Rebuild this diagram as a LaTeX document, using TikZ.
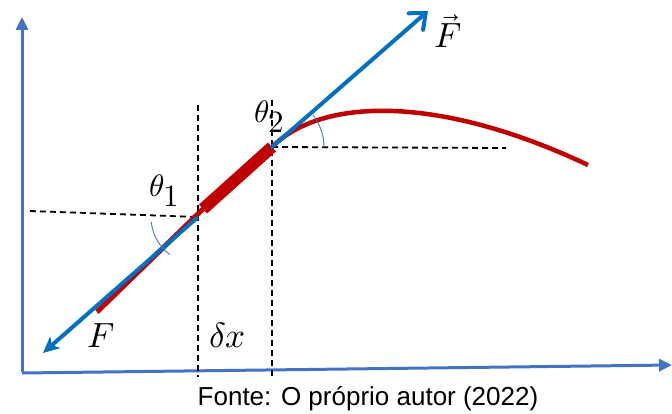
\documentclass[tikz,border=0pt]{standalone}
\usepackage{fontspec}
\usepackage{unicode-math}
\setmathfont{Latin Modern Math}
\newfontfamily\capfont{Liberation Sans}
\usetikzlibrary{arrows.meta}
\definecolor{axisblue}{HTML}{4472C4}
\definecolor{forceblue}{HTML}{0070C0}
\definecolor{curvered}{HTML}{C00000}
\tikzset{
  axisline/.style={axisblue, line width=3pt, -{Triangle[length=13pt,width=12pt]}},
  guide/.style={black, line width=1.8pt, dash pattern=on 6pt off 4pt},
  forcearrow/.style={forceblue, line width=4pt, line cap=round},
  anglearc/.style={axisblue, line width=0.9pt},
  stringthin/.style={curvered, line width=5pt},
  stringthick/.style={curvered, line width=12pt},
  mathlbl/.style={inner sep=0pt, anchor=base west, font=\fontsize{31}{36}\selectfont},
  biglbl/.style={inner sep=0pt, anchor=base west, font=\fontsize{35}{40}\selectfont},
  caption/.style={inner sep=0pt, anchor=base, font=\capfont\fontsize{26}{30}\selectfont}
}
\begin{document}
\begin{tikzpicture}[x=1pt,y=-1pt]
\useasboundingbox (0,0) rectangle (672,414);
% key points
\coordinate (origin) at (22,373);
\coordinate (ytip) at (22,17);
\coordinate (xtip) at (672,365);
\coordinate (P1) at (198,217);
\coordinate (P2) at (272,147);
\coordinate (B1) at (203,209);
\coordinate (R0) at (97,312);
\coordinate (Ftop) at (428,11);
\coordinate (Fbot) at (43,353);
\coordinate (Cend) at (588,165);
\coordinate (V1a) at (198,105);
\coordinate (V1b) at (198,377);
\coordinate (V2a) at (272,100);
\coordinate (V2b) at (272,377);
\coordinate (H1a) at (30,211);
\coordinate (H2b) at (506,148);
% axes
\draw[axisline] ([yshift=1.5pt]origin) -- (ytip);
\draw[axisline] (origin) -- (xtip);
% guides
\draw[guide] (V1a) -- (V1b);
\draw[guide] (V2a) -- (V2b);
\draw[guide] (H1a) -- (P1);
\draw[guide] (P2) -- (H2b);
% string
\draw[stringthin] (B1) -- (R0);
\draw[stringthick] (B1) -- (P2);
\draw[curvered, line width=4.5pt] (P2) .. controls (322,97) and (440,95) .. (Cend);
% forces
\draw[forcearrow, -{Straight Barb[length=13pt,width=22pt,line cap=round]}] (P2) -- (Ftop);
\draw[forcearrow, line cap=butt, -{Stealth[length=16pt,width=15pt,inset=4pt]}] (P1) -- (Fbot);
% angle arcs
\draw[anglearc] (P2) ++(52,0) arc[start angle=0, end angle=-38, radius=52];
\draw[anglearc] (P1) ++(174:47) arc[start angle=174, end angle=127, radius=47];
% labels
\node[mathlbl] (th1) at (149,197) {$\theta_{\textstyle 1}$};
\node[mathlbl] (th2) at (254,123) {$\theta_{\textstyle 2}$};
\node[biglbl] (Fv) at (434,48) {$\vec{F}$};
\node[biglbl] (Fl) at (87,347) {$F$};
\node[biglbl] (dx) at (209,347) {$\delta x$};
\node[caption] (cap) at (368,405) {Fonte: O próprio autor (2022)};
\end{tikzpicture}
\end{document}
